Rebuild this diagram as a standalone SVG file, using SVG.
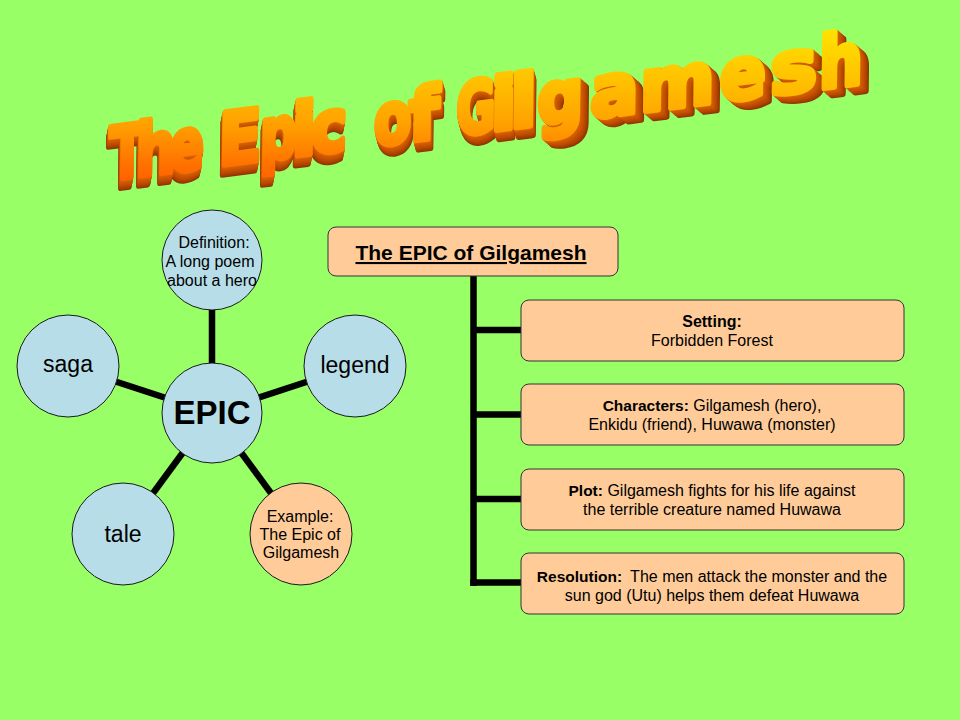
<svg xmlns="http://www.w3.org/2000/svg" xmlns:xlink="http://www.w3.org/1999/xlink" width="960" height="720" viewBox="0 0 960 720">
<style>
.bg{fill:#99FF66}
.circ{fill:#B7DEE8;stroke:#1a1a1a;stroke-width:1}
.peach{fill:#FFCC99;stroke:#1a1a1a;stroke-width:1}
.box{fill:#FFCC99;stroke:#333333;stroke-width:1}
.conn{stroke:#000;stroke-width:6.5;fill:none}
.wa text{font-family:"DejaVu Sans",sans-serif;font-weight:bold;font-size:72px}
.lbl{font-family:"Liberation Sans",Arial,sans-serif;fill:#000;text-anchor:middle}
.s16{font-size:16px}
.s23{font-size:23px}
.b{font-weight:bold}
.ex use{stroke-width:5.5;stroke-linejoin:round}
.e1{fill:#D4600A;stroke:#D4600A}
.e2{fill:#CE5A05;stroke:#CE5A05}
.e3{fill:#C85400;stroke:#C85400}
.e4{fill:#C24F00;stroke:#C24F00}
.e5{fill:#B84900;stroke:#B84900}
.e6{fill:#AD4300;stroke:#AD4300}
.e7{fill:#A03C00;stroke:#A03C00}
.e8{fill:#8F3500;stroke:#8F3500}
</style>
<defs>
  <g id="wa1" class="wa">
    <text transform="translate(1.3,0) scale(0.72,1)">T</text>
    <text transform="translate(27.8,0) scale(0.79,1)">h</text>
    <text transform="translate(61.7,0) scale(0.71,1)">e</text>
    <text transform="translate(111.5,0) scale(0.88,1)">E</text>
    <text transform="translate(153,0) scale(0.73,1)">p</text>
    <text transform="translate(185,0) scale(1,1)">i</text>
    <text transform="translate(204.5,0) scale(0.85,1)">c</text>
  </g>
  <g id="wa2" class="wa">
    <text transform="translate(268,0) scale(0.76,1)">o</text>
    <text transform="translate(303,0) scale(0.97,1)">f</text>
    <text transform="translate(350.8,0) scale(0.67,1)">G</text>
    <text transform="translate(385.5,0) scale(1.05,1)">i</text>
    <text transform="translate(405,0) scale(1.1,1)">l</text>
  </g>
  <g id="wa3" class="wa">
    <text transform="translate(432.5,0) scale(0.9,1)">g</text>
    <text transform="translate(486,0) scale(1,1)">a</text>
    <text transform="translate(536,0) scale(1,1)">m</text>
    <text transform="translate(616.5,0) scale(0.95,1)">e</text>
    <text transform="translate(667.5,0) scale(1.1,1)">s</text>
    <text transform="translate(716.6,0) scale(0.86,1)">h</text>
  </g>
  <g id="waAll">
    <use href="#wa1"/><use href="#wa2"/><use href="#wa3"/>
  </g>
  <linearGradient id="faceGrad" gradientUnits="userSpaceOnUse" x1="0" y1="28" x2="0" y2="190">
    <stop offset="0" stop-color="#FFE400"/>
    <stop offset="0.35" stop-color="#FFBE00"/>
    <stop offset="0.6" stop-color="#FFA000"/>
    <stop offset="0.85" stop-color="#FF7000"/>
    <stop offset="1" stop-color="#FF5800"/>
  </linearGradient>
  <mask id="waMask" maskUnits="userSpaceOnUse" x="0" y="0" width="960" height="240">
    <use href="#waAll" transform="translate(108,180) rotate(-7.3) skewX(-8)" fill="#fff" stroke="#fff" stroke-width="5.5" stroke-linejoin="round"/>
  </mask>
</defs>

<rect class="bg" x="0" y="0" width="960" height="720"/>

<g id="title-wordart">
  <g class="ex" transform="translate(108,180) rotate(-7.3) skewX(-8)">
    <use href="#wa1" class="e8" x="-2" y="9.6"/>
    <use href="#wa1" class="e7" x="-1.75" y="8.4"/>
    <use href="#wa1" class="e6" x="-1.5" y="7.2"/>
    <use href="#wa1" class="e5" x="-1.25" y="6"/>
    <use href="#wa1" class="e4" x="-1" y="4.8"/>
    <use href="#wa1" class="e3" x="-0.75" y="3.6"/>
    <use href="#wa1" class="e2" x="-0.5" y="2.4"/>
    <use href="#wa1" class="e1" x="-0.25" y="1.2"/>
    <use href="#wa2" class="e8" x="2.8" y="9.6"/>
    <use href="#wa2" class="e7" x="2.45" y="8.4"/>
    <use href="#wa2" class="e6" x="2.1" y="7.2"/>
    <use href="#wa2" class="e5" x="1.75" y="6"/>
    <use href="#wa2" class="e4" x="1.4" y="4.8"/>
    <use href="#wa2" class="e3" x="1.05" y="3.6"/>
    <use href="#wa2" class="e2" x="0.7" y="2.4"/>
    <use href="#wa2" class="e1" x="0.35" y="1.2"/>
    <use href="#wa3" class="e8" x="8.8" y="8.4"/>
    <use href="#wa3" class="e7" x="7.7" y="7.35"/>
    <use href="#wa3" class="e6" x="6.6" y="6.3"/>
    <use href="#wa3" class="e5" x="5.5" y="5.25"/>
    <use href="#wa3" class="e4" x="4.4" y="4.2"/>
    <use href="#wa3" class="e3" x="3.3" y="3.15"/>
    <use href="#wa3" class="e2" x="2.2" y="2.1"/>
    <use href="#wa3" class="e1" x="1.1" y="1.05"/>
  </g>
  <rect x="0" y="0" width="960" height="240" fill="url(#faceGrad)" mask="url(#waMask)"/>
</g>

<g id="connectors">
  <line class="conn" x1="212" y1="413" x2="212" y2="260"/>
  <line class="conn" x1="212" y1="413" x2="68" y2="366"/>
  <line class="conn" x1="212" y1="413" x2="355" y2="366"/>
  <line class="conn" x1="212" y1="413" x2="123" y2="534"/>
  <line class="conn" x1="212" y1="413" x2="301" y2="534"/>
  <path class="conn" d="M473.5,276 V586"/>
  <path class="conn" d="M473.5,330 H521"/>
  <path class="conn" d="M473.5,414.5 H521"/>
  <path class="conn" d="M473.5,499 H521"/>
  <path class="conn" d="M470.25,582.5 H521"/>
</g>

<g id="node-definition">
  <circle class="circ" cx="212" cy="260" r="50"/>
  <text class="lbl s16" x="214" y="248">Definition:</text>
  <text class="lbl s16" x="210" y="267">A long poem</text>
  <text class="lbl s16" x="212" y="286">about a hero</text>
</g>
<g id="node-epic">
  <circle class="circ" cx="212" cy="413" r="50"/>
  <text class="lbl b" x="212" y="424" font-size="33">EPIC</text>
</g>
<g id="node-saga">
  <circle class="circ" cx="68" cy="366" r="51"/>
  <text class="lbl s23" x="68" y="372">saga</text>
</g>
<g id="node-legend">
  <circle class="circ" cx="355" cy="366" r="51"/>
  <text class="lbl s23" x="355" y="373">legend</text>
</g>
<g id="node-tale">
  <circle class="circ" cx="123" cy="534" r="51"/>
  <text class="lbl s23" x="123" y="542">tale</text>
</g>
<g id="node-example">
  <circle class="peach" cx="301" cy="534" r="51"/>
  <text class="lbl s16" x="300" y="522">Example:</text>
  <text class="lbl s16" x="300" y="540">The Epic of</text>
  <text class="lbl s16" x="301" y="558">Gilgamesh</text>
</g>

<g id="node-title-box">
  <rect class="box" x="328" y="227" width="290" height="49" rx="8"/>
  <text class="lbl b" x="471" y="260" font-size="21" text-decoration="underline">The EPIC of Gilgamesh</text>
</g>
<g id="node-setting">
  <rect class="box" x="521" y="300" width="383" height="61" rx="8"/>
  <text class="lbl s16 b" x="712" y="327" font-size="15.5">Setting:</text>
  <text class="lbl s16" x="712" y="346">Forbidden Forest</text>
</g>
<g id="node-characters">
  <rect class="box" x="521" y="384" width="383" height="61" rx="8"/>
  <text class="lbl s16" x="712" y="411"><tspan class="b" font-size="15.5">Characters:</tspan> Gilgamesh (hero),</text>
  <text class="lbl s16" x="712" y="430">Enkidu (friend), Huwawa (monster)</text>
</g>
<g id="node-plot">
  <rect class="box" x="521" y="469" width="383" height="61" rx="8"/>
  <text class="lbl s16" x="712" y="496"><tspan class="b" font-size="15.5">Plot:</tspan> Gilgamesh fights for his life against</text>
  <text class="lbl s16" x="712" y="515">the terrible creature named Huwawa</text>
</g>
<g id="node-resolution">
  <rect class="box" x="521" y="553" width="383" height="61" rx="8"/>
  <text class="lbl s16" x="712" y="582"><tspan class="b" font-size="15.5">Resolution:</tspan><tspan dx="8">The men attack the monster and the</tspan></text>
  <text class="lbl s16" x="712" y="601">sun god (Utu) helps them defeat Huwawa</text>
</g>
</svg>
